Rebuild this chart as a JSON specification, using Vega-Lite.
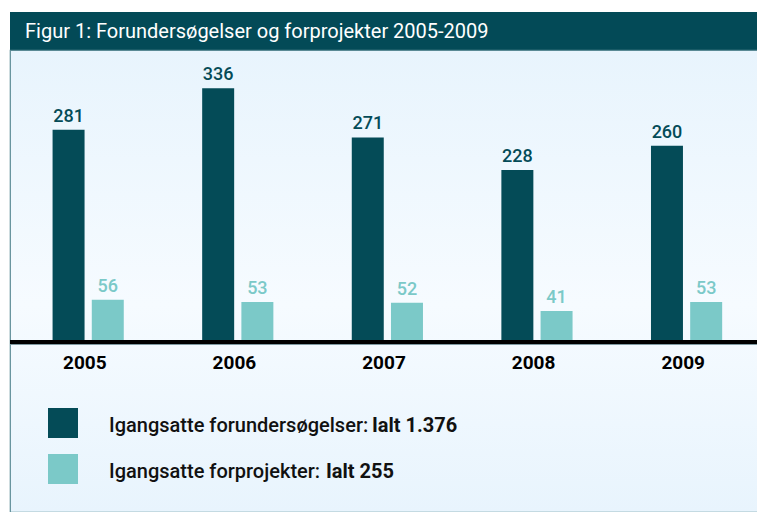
{
  "$schema": "https://vega.github.io/schema/vega-lite/v6.json",
  "padding": {"left": 9, "top": 12, "right": 0, "bottom": 0},
  "background": "white",
  "spacing": 0,
  "bounds": "flush",
  "config": {"view": {"stroke": null}, "font": "Roboto"},
  "datasets": {
    "bars": [
      {"year": "2005", "series": "Igangsatte forundersøgelser", "value": 281},
      {"year": "2005", "series": "Igangsatte forprojekter", "value": 56},
      {"year": "2006", "series": "Igangsatte forundersøgelser", "value": 336},
      {"year": "2006", "series": "Igangsatte forprojekter", "value": 53},
      {"year": "2007", "series": "Igangsatte forundersøgelser", "value": 271},
      {"year": "2007", "series": "Igangsatte forprojekter", "value": 52},
      {"year": "2008", "series": "Igangsatte forundersøgelser", "value": 228},
      {"year": "2008", "series": "Igangsatte forprojekter", "value": 41},
      {"year": "2009", "series": "Igangsatte forundersøgelser", "value": 260},
      {"year": "2009", "series": "Igangsatte forprojekter", "value": 53}
    ],
    "legend": [
      {"series": "Igangsatte forundersøgelser", "prefix": "Igangsatte forundersøgelser: ", "total": "Ialt 1.376"},
      {"series": "Igangsatte forprojekter", "prefix": "Igangsatte forprojekter: ", "total": "Ialt 255"}
    ]
  },
  "vconcat": [
    {
      "width": 748,
      "height": 38,
      "view": {"fill": "#034a57", "stroke": null},
      "data": {"values": [{"title": "Figur 1: Forundersøgelser og forprojekter 2005-2009"}]},
      "mark": {"type": "text", "align": "left", "baseline": "alphabetic", "font": "Roboto", "fontSize": 20, "color": "#ffffff"},
      "encoding": {
        "text": {"field": "title"},
        "x": {"value": 15},
        "y": {"value": 26}
      }
    },
    {
      "width": 748,
      "height": 462,
      "view": {
        "fill": {"gradient": "linear", "x1": 0, "y1": 0, "x2": 0, "y2": 1, "stops": [{"offset": 0, "color": "#e8f4fd"}, {"offset": 0.55, "color": "#f6fbff"}, {"offset": 1, "color": "#e8f4fd"}]},
        "stroke": "#5a8a95",
        "strokeWidth": 1.2
      },
      "layer": [
        {
          "layer": [
            {
              "data": {"name": "bars"},
              "encoding": {
                "x": {
                  "field": "year", "type": "ordinal",
                  "scale": {"paddingInner": 0, "paddingOuter": 0},
                  "axis": {"orient": "bottom", "offset": -170, "domain": false, "ticks": false, "grid": false, "labelPadding": 11, "labelFont": "Roboto", "labelFontSize": 19, "labelFontWeight": "bold", "labelColor": "#000000", "labelAngle": 0, "title": null}
                },
                "xOffset": {
                  "field": "series",
                  "scale": {"domain": ["Igangsatte forundersøgelser", "Igangsatte forprojekter"], "paddingInner": 0.1842, "paddingOuter": 1.0605, "align": 0.543}
                },
                "y": {
                  "field": "value", "type": "quantitative",
                  "scale": {"domain": [-225.2, 386.8], "nice": false, "zero": false},
                  "axis": null
                },
                "color": {
                  "field": "series",
                  "scale": {"domain": ["Igangsatte forundersøgelser", "Igangsatte forprojekter"], "range": ["#044b57", "#7bc9c8"]},
                  "legend": null
                }
              },
              "layer": [
                {"mark": {"type": "bar"}},
                {
                  "mark": {"type": "text", "baseline": "alphabetic", "dy": -8, "fontSize": 18, "fontWeight": 500, "font": "Roboto"},
                  "encoding": {"text": {"field": "value", "type": "quantitative"}}
                }
              ]
            },
            {
              "data": {"values": [{}]},
              "mark": {"type": "rect", "color": "#000000"},
              "encoding": {"y": {"datum": 2.65, "type": "quantitative"}, "y2": {"datum": -2.65}}
            },
            {
              "data": {"values": [{}]},
              "mark": {"type": "rect", "color": "#7f9aa2"},
              "encoding": {"y": {"datum": -2.65, "type": "quantitative"}, "y2": {"datum": -3.97}}
            }
          ]
        },
        {
          "data": {"name": "legend"},
          "encoding": {
            "y": {
              "field": "series", "type": "nominal",
              "scale": {"domain": ["Igangsatte forundersøgelser", "Igangsatte forprojekter"], "range": [373, 419], "padding": 0},
              "axis": null
            }
          },
          "layer": [
            {
              "mark": {"type": "point", "shape": "square", "size": 900, "filled": true, "opacity": 1, "strokeWidth": 0},
              "encoding": {
                "x": {"value": 53},
                "color": {"field": "series", "scale": {"domain": ["Igangsatte forundersøgelser", "Igangsatte forprojekter"], "range": ["#044b57", "#7bc9c8"]}, "legend": null}
              }
            },
            {
              "mark": {"type": "text", "align": "left", "baseline": "middle", "dy": 3, "fontSize": 20, "fontWeight": 500, "font": "Roboto", "color": "#111111"},
              "encoding": {"x": {"value": 99}, "text": {"field": "prefix"}}
            },
            {
              "mark": {"type": "text", "align": "left", "baseline": "middle", "dy": 3, "fontSize": 20, "fontWeight": "bold", "font": "Roboto", "color": "#111111", "dx": {"expr": "10.4 * length(datum.prefix) - 4.3 * length(replace(datum.prefix, regexp('[^Iijlrtf:]', 'g'), ''))"}},
              "encoding": {"x": {"value": 99}, "text": {"field": "total"}}
            }
          ]
        }
      ],
      "resolve": {"scale": {"x": "independent", "y": "independent"}}
    }
  ]
}
